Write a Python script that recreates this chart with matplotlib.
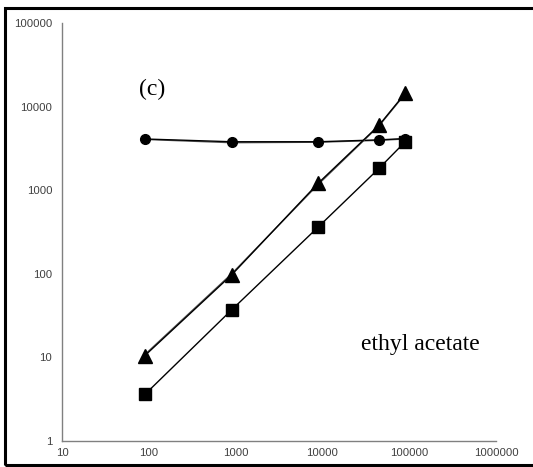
import numpy as np
import matplotlib.pyplot as plt
from matplotlib.patches import Rectangle

# dane
conc = [90, 900, 9000, 45000, 90000]
circle_a = [4100, 3800, 3800, 4000, 4150]
circle_b = [4050, 3700, 3750, 3950, 4100]
triangle_a = [10.5, 97, 1220, 6000, 14500]
triangle_b = [10.8, 100, 1180, 5900, 14200]
square = [3.6, 37, 365, 1830, 3800]

fig = plt.figure(figsize=(5.33, 4.67), dpi=100)
ax = fig.add_axes([0.1163, 0.0557, 0.8143, 0.895])

ax.plot(conc, circle_b, color='#555555', lw=1.0)
ax.plot(conc, circle_a, color='black', lw=1.0, marker='o', ms=7)
ax.plot(conc, triangle_b, color='#555555', lw=1.0)
ax.plot(conc, triangle_a, color='black', lw=1.0, marker='^', ms=9.5)
ax.plot(conc, square, color='black', lw=1.0, marker='s', ms=8)

ax.set_xscale('log')
ax.set_yscale('log')
ax.set_xlim(10, 1e6)
ax.set_ylim(1, 1e5)
ax.set_xticks([10, 100, 1000, 10000, 100000, 1000000])
ax.set_xticklabels(['10', '100', '1000', '10000', '100000', '1000000'])
ax.set_yticks([1, 10, 100, 1000, 10000, 100000])
ax.set_yticklabels(['1', '10', '100', '1000', '10000', '100000'])
ax.minorticks_off()
ax.tick_params(length=0, labelsize=8.2, labelcolor='#404040')
ax.tick_params(axis='y', pad=7)
ax.tick_params(axis='x', pad=5)
for lab in ax.get_xticklabels() + ax.get_yticklabels():
    lab.set_family('Liberation Sans')

for s in ['top', 'right']:
    ax.spines[s].set_visible(False)
for s in ['left', 'bottom']:
    ax.spines[s].set_color('#808080')
    ax.spines[s].set_linewidth(1.0)

ax.text(0.207, 0.842, '(c)', transform=ax.transAxes, ha='center', va='center',
        fontsize=17, family='Liberation Serif')
ax.text(0.825, 0.23, 'ethyl acetate', transform=ax.transAxes, ha='center', va='center',
        fontsize=17, family='Liberation Serif')

# ramka wokol rysunku
fig.patches.append(Rectangle((5 / 533, 2 / 467), 1.0, 457 / 467, transform=fig.transFigure,
                             fill=False, edgecolor='black', lw=2.2))

fig.savefig('out.png', dpi=100)
